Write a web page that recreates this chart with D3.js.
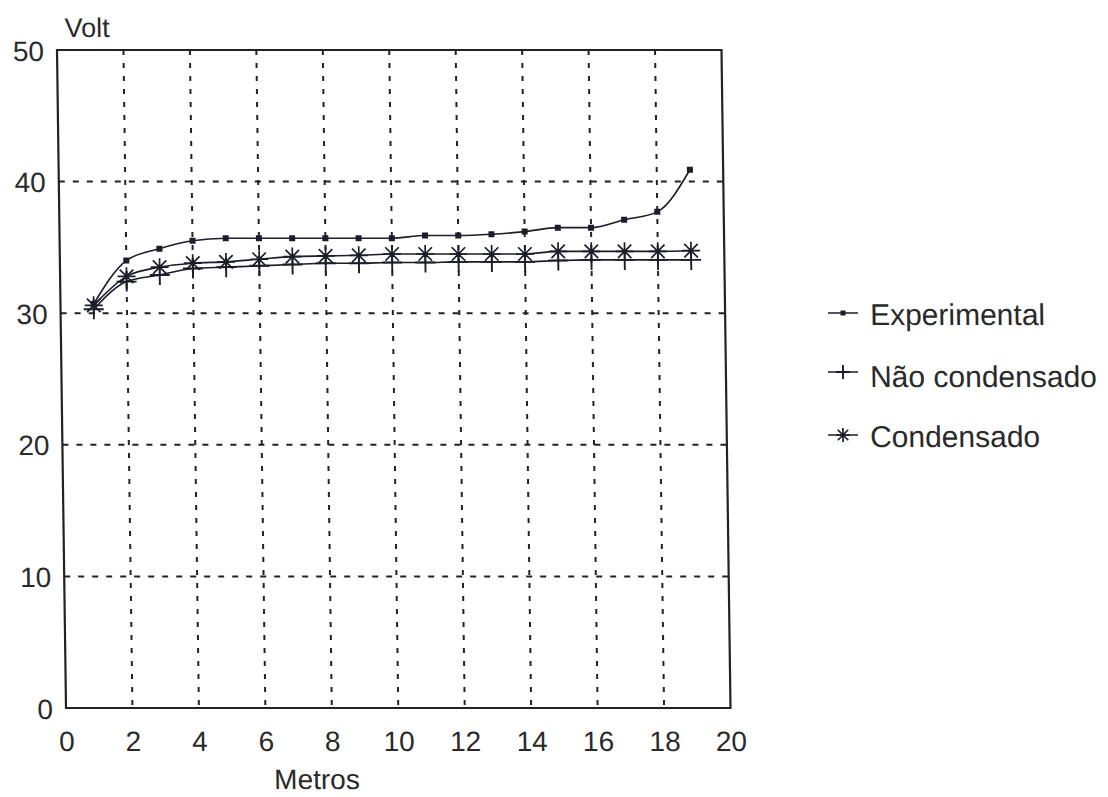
<!DOCTYPE html>
<html>
<head>
<meta charset="utf-8">
<script src="https://cdn.jsdelivr.net/npm/d3@7/dist/d3.min.js"></script>
<style>
  html, body { margin: 0; padding: 0; background: #fff; }
  svg { display: block; }
  text { font-family: "Liberation Sans", Arial, sans-serif; fill: #2a2a2a; }
</style>
</head>
<body>
<svg id="chart" width="1108" height="797"></svg>
<script>
// Measurement positions along the cable (m)
const metros = [1, 2, 3, 4, 5, 6, 7, 8, 9, 10, 11, 12, 13, 14, 15, 16, 17, 18, 19];
// Voltage readings / model results (V)
const experimental  = [30.7, 34.0, 34.9, 35.5, 35.7, 35.7, 35.7, 35.7, 35.7, 35.7, 35.9, 35.9, 36.0, 36.2, 36.5, 36.5, 37.1, 37.7, 40.9];
const naoCondensado = [30.3, 32.4, 32.9, 33.4, 33.5, 33.6, 33.7, 33.8, 33.8, 33.85, 33.85, 33.9, 33.9, 33.9, 34.0, 34.05, 34.05, 34.05, 34.05];
const condensado    = [30.6, 32.8, 33.5, 33.8, 33.9, 34.1, 34.3, 34.35, 34.4, 34.5, 34.5, 34.5, 34.5, 34.5, 34.7, 34.7, 34.7, 34.7, 34.75];

const xTicks = [0, 2, 4, 6, 8, 10, 12, 14, 16, 18, 20];
const yTicks = [0, 10, 20, 30, 40, 50];
const seriesNames = ["Experimental", "Não condensado", "Condensado"];

const L = 66, R = 730.5, T = 50, B = 708;
const ink = "#1c1c2a";
const textInk = "#2a2a2a";

const svg = d3.select("#chart");
// slight shear of the whole drawing (plot frame leans left towards the top)
const skewDeg = Math.atan(9 / 658) * 180 / Math.PI;
const root = svg.append("g")
  .attr("transform", `translate(0,${B}) skewX(${skewDeg}) translate(0,${-B})`);

const x = d3.scaleLinear().domain([0, 20]).range([L, R]);
const y = d3.scaleLinear().domain([0, 50]).range([B, T]);

// grid
const grid = root.append("g").attr("stroke", "#222").attr("stroke-width", 2).attr("fill", "none");
grid.selectAll("line.h").data(yTicks.filter(d => d > 0 && d < 50)).join("line")
  .attr("class", "h")
  .attr("x1", L).attr("x2", R)
  .attr("y1", d => y(d)).attr("y2", d => y(d))
  .attr("stroke-dasharray", "6,8");
grid.selectAll("line.v").data(xTicks.filter(d => d > 0 && d < 20)).join("line")
  .attr("class", "v")
  .attr("x1", d => x(d)).attr("x2", d => x(d))
  .attr("y1", T).attr("y2", B)
  .attr("stroke-dasharray", "5,8");

// frame
root.append("rect")
  .attr("x", L).attr("y", T).attr("width", R - L).attr("height", B - T)
  .attr("fill", "none").attr("stroke", "#222").attr("stroke-width", 2.2);

// axes (labels only, the frame carries the lines)
const xAxis = d3.axisBottom(x).tickValues(xTicks).tickSize(0).tickPadding(0).tickFormat(d3.format("d"));
const gx = root.append("g").attr("transform", `translate(0,${B})`).call(xAxis);
gx.select(".domain").remove();
gx.selectAll("text").attr("font-size", 28).attr("dy", null).attr("y", 43)
  .style("font-family", '"Liberation Sans", Arial, sans-serif').attr("fill", textInk);

const yAxis = d3.axisLeft(y).tickValues(yTicks).tickSize(0).tickPadding(13).tickFormat(d3.format("d"));
const gy = root.append("g").attr("transform", `translate(${L},0)`).call(yAxis);
gy.select(".domain").remove();
gy.selectAll("text").attr("font-size", 28).attr("dy", "0.36em")
  .style("font-family", '"Liberation Sans", Arial, sans-serif').attr("fill", textInk);

// axis titles
root.append("text").attr("x", 74).attr("y", 37).attr("font-size", 27).text("Volt");
root.append("text").attr("x", 316).attr("y", 789).attr("font-size", 28)
  .attr("text-anchor", "middle").text("Metros");

// series lines
const line = d3.line().x(d => x(d[0])).y(d => y(d[1])).curve(d3.curveMonotoneX);
const seriesData = [experimental, naoCondensado, condensado].map(vals => metros.map((m, i) => [m, vals[i]]));

const lines = root.append("g").attr("fill", "none").attr("stroke", ink).attr("stroke-width", 1.6);
seriesData.forEach(s => lines.append("path").attr("d", line(s)));

// marker painters
function square(g, cx, cy, s) {
  g.append("rect").attr("x", cx - s / 2).attr("y", cy - s / 2).attr("width", s).attr("height", s)
    .attr("fill", ink);
}
function plus(g, cx, cy, h) {
  g.append("path").attr("d", `M${cx - h},${cy}H${cx + h}M${cx},${cy - h}V${cy + h}`)
    .attr("stroke", ink).attr("stroke-width", 1.9).attr("fill", "none");
}
function star(g, cx, cy, h) {
  const d = h * 0.75;
  g.append("path")
    .attr("d", `M${cx - h},${cy}H${cx + h}M${cx},${cy - h}V${cy + h}` +
               `M${cx - d},${cy - d}L${cx + d},${cy + d}M${cx - d},${cy + d}L${cx + d},${cy - d}`)
    .attr("stroke", ink).attr("stroke-width", 1.7).attr("fill", "none");
}

const marks = root.append("g");
seriesData[1].forEach(d => plus(marks, x(d[0]), y(d[1]), 10));
seriesData[2].forEach(d => star(marks, x(d[0]), y(d[1]), 9));
seriesData[0].forEach(d => square(marks, x(d[0]), y(d[1]), 6));

// legend
const legendRows = [
  { name: seriesNames[0], cy: 313, base: 325, draw: (g, cx, cy) => square(g, cx, cy, 5) },
  { name: seriesNames[1], cy: 372, base: 387, draw: (g, cx, cy) => plus(g, cx, cy, 7) },
  { name: seriesNames[2], cy: 435, base: 447, draw: (g, cx, cy) => star(g, cx, cy, 7) }
];
const legend = root.append("g");
legendRows.forEach(r => {
  const shift = 9 * (B - r.cy) / 658;
  const x0 = 828 + shift, x1 = 858 + shift;
  legend.append("line").attr("x1", x0).attr("x2", x1).attr("y1", r.cy).attr("y2", r.cy)
    .attr("stroke", ink).attr("stroke-width", 1.6);
  r.draw(legend, (x0 + x1) / 2, r.cy);
  legend.append("text").attr("x", x1 + 12).attr("y", r.base).attr("font-size", 30).text(r.name);
});
</script>
</body>
</html>
